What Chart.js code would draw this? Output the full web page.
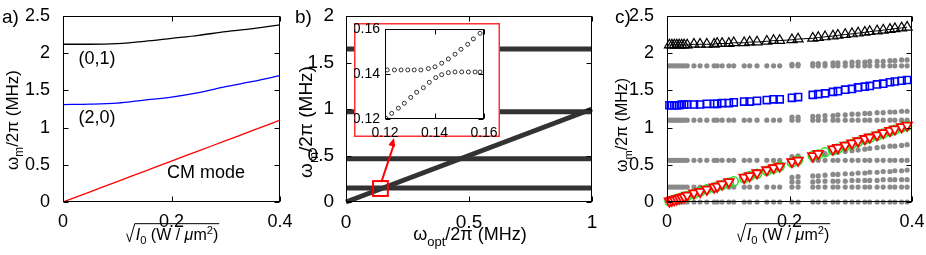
<!DOCTYPE html>
<html>
<head>
<meta charset="utf-8">
<script src="https://cdn.jsdelivr.net/npm/chart.js@4/dist/chart.umd.min.js"></script>
<style>
  body { margin: 0; background: #fff; width: 926px; height: 255px; position: relative; overflow: hidden; }
  canvas { position: absolute; top: 0; }
</style>
</head>
<body>
<canvas id="pa" width="300" height="255" style="left:0px"></canvas>
<canvas id="pb" width="320" height="255" style="left:290px"></canvas>
<canvas id="pc" width="316" height="255" style="left:610px"></canvas>
<canvas id="pi" width="146" height="114" style="left:354px;top:23px"></canvas>
<script>
const FONT = "'Liberation Sans', Arial, sans-serif";

// ---- panel a : model curves
const aX      = [0, 0.05, 0.1, 0.15, 0.2, 0.25, 0.3, 0.35, 0.4];
const aMode01 = [2.12, 2.12, 2.13, 2.16, 2.20, 2.24, 2.29, 2.33, 2.38];
const aMode20 = [1.31, 1.315, 1.33, 1.37, 1.41, 1.47, 1.55, 1.62, 1.70];
const aCM     = [0, 0.137, 0.275, 0.412, 0.55, 0.687, 0.825, 0.962, 1.10];

// ---- panel b : bands vs omega_opt
const bX      = [0, 1];
const bLevels = [0.15, 0.465, 0.97, 1.645];
const bDiag   = [0, 1.0];

// ---- panel b inset (avoided crossing)
const inUpX = [0.1209, 0.1238, 0.1265, 0.1292, 0.1318, 0.1345, 0.1375, 0.1402, 0.1429, 0.1456, 0.1483, 0.1507, 0.1534, 0.1557, 0.1584];
const inUpY = [0.1418, 0.1418, 0.1418, 0.1418, 0.1418, 0.1418, 0.1424, 0.1432, 0.1448, 0.1467, 0.1488, 0.1510, 0.1532, 0.1556, 0.1581];
const inLoX = [0.1204, 0.1227, 0.1254, 0.1278, 0.1304, 0.1328, 0.1355, 0.1379, 0.1405, 0.1429, 0.1456, 0.1483, 0.1510, 0.1537, 0.1564, 0.1584];
const inLoY = [0.1203, 0.1225, 0.1248, 0.1270, 0.1296, 0.1319, 0.1339, 0.1363, 0.1384, 0.1397, 0.1406, 0.1409, 0.1409, 0.1409, 0.1409, 0.1409];

// ---- panel c : simulated modes
const cX = [0.004, 0.008, 0.012, 0.016, 0.020, 0.024, 0.028, 0.033, 0.044, 0.054, 0.065, 0.077, 0.082, 0.090, 0.101, 0.109,
            0.126, 0.135, 0.147, 0.163, 0.174, 0.184, 0.204, 0.214, 0.238, 0.247, 0.258, 0.271, 0.279,
            0.291, 0.302, 0.312, 0.323, 0.331, 0.343, 0.353, 0.364, 0.372, 0.383, 0.392];
const cMode01 = [2.11, 2.11, 2.11, 2.11, 2.11, 2.11, 2.11, 2.11, 2.12, 2.12, 2.12, 2.12, 2.13, 2.13, 2.13, 2.14,
                 2.14, 2.15, 2.15, 2.16, 2.17, 2.17, 2.18, 2.19, 2.20, 2.21, 2.22, 2.23, 2.24,
                 2.25, 2.26, 2.27, 2.28, 2.29, 2.30, 2.31, 2.32, 2.33, 2.34, 2.35];
const cMode20 = [1.30, 1.30, 1.30, 1.30, 1.30, 1.31, 1.31, 1.31, 1.31, 1.31, 1.32, 1.32, 1.32, 1.33, 1.33, 1.34,
                 1.35, 1.35, 1.36, 1.37, 1.38, 1.38, 1.40, 1.41, 1.44, 1.45, 1.46, 1.48, 1.49,
                 1.51, 1.52, 1.54, 1.55, 1.56, 1.58, 1.59, 1.61, 1.62, 1.63, 1.64];
const cCMred  = [0.01, 0.02, 0.03, 0.04, 0.05, 0.06, 0.07, 0.09, 0.12, 0.14, 0.17, 0.20, 0.21, 0.24, 0.27, null,
                 0.33, 0.35, 0.39, 0.43, 0.46, 0.48, 0.54, 0.56, 0.62, 0.65, null, 0.71, 0.73,
                 0.76, 0.79, 0.82, 0.85, 0.87, 0.90, 0.93, 0.96, 0.98, 1.01, 1.03];
const cCMgreen = [0.01, 0.02, 0.03, 0.04, 0.05, 0.06, 0.07, 0.08, 0.11, 0.14, 0.17, 0.19, 0.21, 0.23, 0.26, 0.28,
                  0.32, 0.35, 0.38, 0.42, 0.45, 0.48, 0.53, 0.56, 0.62, 0.64, 0.67, 0.70, 0.72,
                  0.75, 0.78, 0.81, 0.84, 0.86, 0.89, 0.92, 0.95, 0.97, 1.00, 1.02];
// gray rows spanning the whole sweep
const cGray0  = [0,0,0,0,0,0,0,0,0,0,0,0,0,0,0,0,0,0,0,0,0,0,0,0,0,0,0,0,0,0,0,0,0,0,0,0,0,0,0,0];
const cGray1  = [0.2,0.2,0.2,0.2,0.2,0.2,0.2,0.2,0.2,0.2,0.2,0.2,0.2,0.2,0.2,0.2,0.2,0.2,0.2,0.2,
                 0.2,0.2,0.2,0.2,0.2,0.2,0.2,0.2,0.2,0.2,0.2,0.2,0.2,0.2,0.2,0.2,0.2,0.2,0.2,0.2];
const cGray2  = [0.56,0.56,0.56,0.56,0.56,0.56,0.56,0.56,0.56,0.56,0.56,0.56,0.56,0.56,0.56,0.56,0.56,0.56,0.56,0.56,
                 0.56,0.56,0.56,0.56,0.56,0.56,0.56,0.56,0.56,0.56,0.56,0.56,0.56,0.56,0.56,0.56,0.56,0.56,0.56,0.56];
const cGray3  = [1.1,1.1,1.1,1.1,1.1,1.1,1.1,1.1,1.1,1.1,1.1,1.1,1.1,1.1,1.1,1.1,1.1,1.1,1.1,1.1,
                 1.1,1.1,1.1,1.1,1.1,1.1,1.1,1.1,1.1,1.1,1.1,1.1,1.1,1.1,1.1,1.1,1.1,1.1,1.1,1.1];
const cGray4  = [1.83,1.83,1.83,1.83,1.83,1.83,1.83,1.83,1.83,1.83,1.83,1.83,1.83,1.83,1.83,1.83,1.83,1.83,1.83,1.83,
                 1.83,1.83,1.83,1.83,1.83,1.83,1.83,1.83,1.83,1.83,1.83,1.83,1.83,1.83,1.83,1.83,1.83,1.83,1.83,1.83];
// gray rows appearing at higher intensity (from cX[22] on)
const cLateX = cX.slice(22);
const cGrayL1 = [0.27,0.27,0.27,0.28,0.28,0.28,0.28,0.28,0.29,0.29,0.29,0.29,0.29,0.30,0.30,0.30,0.30,0.30];
const cGrayL2 = [0.33,0.34,0.35,0.35,0.36,0.37,0.37,0.38,0.38,0.39,0.39,0.40,0.40,0.41,0.41,0.42,0.42,0.43];
const cGrayL3 = [0.61,0.62,0.63,0.64,0.65,0.66,0.67,0.68,0.69,0.70,0.71,0.72,0.73,0.74,0.75,0.75,0.76,0.77];
const cGrayL4 = [1.14,1.14,1.15,1.15,1.16,1.16,1.17,1.17,1.18,1.18,1.19,1.19,1.20,1.20,1.21,1.21,1.22,1.22];
const cGrayL5 = [1.85,1.85,1.86,1.86,1.86,1.87,1.87,1.87,1.88,1.88,1.88,1.89,1.89,1.89,1.90,1.90,1.91,1.91];

const pts = (xs, ys) => xs.map((x, i) => ({ x: x, y: ys[i] }));

// ---------- text helpers
function fnt(s) { return (s.italic ? 'italic ' : '') + s.size + 'px ' + FONT; }
function rich(ctx, segs, x, y, rot) {
  ctx.save();
  ctx.translate(x, y);
  if (rot) ctx.rotate(rot);
  ctx.textAlign = 'left';
  ctx.textBaseline = 'alphabetic';
  ctx.fillStyle = '#000';
  let w = 0;
  segs.forEach(s => { ctx.font = fnt(s); s.w = ctx.measureText(s.t).width; w += s.w; });
  let cx = -w / 2;
  segs.forEach(s => { ctx.font = fnt(s); ctx.fillText(s.t, cx, s.dy || 0); cx += s.w; });
  ctx.restore();
}
function yTitle(ctx, x, y, f) {
  rich(ctx, [{ t: 'ω', size: f }, { t: 'm', size: f * 0.7, dy: f * 0.3 }, { t: '/2π (MHz)', size: f }], x, y, -Math.PI / 2);
}
function sqrtTitle(ctx, cx, base, f) {
  const segs = [{ t: 'I', size: f, italic: true }, { t: '0', size: f * 0.7, dy: f * 0.25 }, { t: ' (W / ', size: f },
                { t: 'μ', size: f, italic: true }, { t: 'm', size: f }, { t: '2', size: f * 0.7, dy: -f * 0.4 }, { t: ')', size: f }];
  ctx.save();
  let w = 0;
  segs.forEach(s => { ctx.font = fnt(s); s.w = ctx.measureText(s.t).width; w += s.w; });
  const r = f * 0.5;
  const s0 = cx - (w + r) / 2;
  ctx.strokeStyle = '#000';
  ctx.lineWidth = 1;
  ctx.beginPath();
  ctx.moveTo(s0, base - f * 0.4);
  ctx.lineTo(s0 + r * 0.35, base + f * 0.12);
  ctx.lineTo(s0 + r, base - f * 1.02);
  ctx.lineTo(s0 + r + w + 2, base - f * 1.02);
  ctx.stroke();
  ctx.fillStyle = '#000';
  ctx.textBaseline = 'alphabetic';
  let x = s0 + r + 1;
  segs.forEach(s => { ctx.font = fnt(s); ctx.fillText(s.t, x, base + (s.dy || 0)); x += s.w; });
  ctx.restore();
}
function label(ctx, t, x, y, f, align) {
  ctx.save();
  ctx.font = f + 'px ' + FONT;
  ctx.fillStyle = '#000';
  ctx.textAlign = align || 'left';
  ctx.textBaseline = 'alphabetic';
  ctx.fillText(t, x, y);
  ctx.restore();
}

// ---------- MATLAB style box with inward ticks
const frame = {
  id: 'frame',
  afterDatasetsDraw(chart, args, o) {
    const { ctx, chartArea: a, scales } = chart;
    const L = o.len || 5;
    ctx.save();
    ctx.strokeStyle = '#000';
    ctx.lineWidth = 1;
    const l = Math.round(a.left) + 0.5, r = Math.round(a.right) - 0.5;
    const t = Math.round(a.top) + 0.5, b = Math.round(a.bottom) - 0.5;
    ctx.strokeRect(l, t, r - l, b - t);
    ctx.beginPath();
    scales.x.ticks.forEach(k => {
      const p = Math.round(scales.x.getPixelForValue(k.value)) + 0.5;
      ctx.moveTo(p, b); ctx.lineTo(p, b - L);
      ctx.moveTo(p, t); ctx.lineTo(p, t + L);
    });
    scales.y.ticks.forEach(k => {
      const p = Math.round(scales.y.getPixelForValue(k.value)) + 0.5;
      ctx.moveTo(l, p); ctx.lineTo(l + L, p);
      ctx.moveTo(r, p); ctx.lineTo(r - L, p);
    });
    ctx.stroke();
    ctx.restore();
  },
  afterDraw(chart, args, o) {
    if (o.text) o.text(chart.ctx, chart);
  }
};

const fmt = (v) => String(+Number(v).toFixed(3));
function scales(xr, yr, leftW, bottomH, fs, pads) {
  const tk = { color: '#000', font: { family: FONT, size: fs }, maxRotation: 0, autoSkip: false, callback: fmt };
  return {
    x: { type: 'linear', min: xr[0], max: xr[1], grid: { display: false }, border: { display: false },
         ticks: Object.assign({ stepSize: xr[2], padding: pads[0] }, tk), afterFit(s) { s.height = bottomH; } },
    y: { type: 'linear', min: yr[0], max: yr[1], grid: { display: false }, border: { display: false },
         ticks: Object.assign({ stepSize: yr[2], padding: pads[1] }, tk), afterFit(s) { s.width = leftW; } }
  };
}
const base = (pad, sc, text) => ({
  responsive: false, animation: false, devicePixelRatio: 1,
  layout: { padding: pad },
  scales: sc,
  plugins: { legend: { display: false }, tooltip: { enabled: false }, frame: { text: text } }
});
const line = (data, color, w) => ({ data: data, showLine: true, borderColor: color, borderWidth: w, pointRadius: 0, cubicInterpolationMode: 'monotone', fill: false });

// ---------- panel a
new Chart(document.getElementById('pa'), {
  type: 'scatter',
  data: { datasets: [
    line(pts(aX, aMode01), '#000000', 1.3),
    line(pts(aX, aMode20), '#0000ff', 1.3),
    line(pts(aX, aCM), '#ff0000', 1.3)
  ] },
  options: base({ left: 0, right: 20, top: 16, bottom: 0 }, scales([0, 0.4, 0.2], [0, 2.5, 0.5], 63, 53, 18, [1, 5]), (ctx) => {
    label(ctx, 'a)', 2, 23, 19);
    label(ctx, '(0,1)', 97, 64, 18, 'center');
    label(ctx, '(2,0)', 97, 123, 18, 'center');
    label(ctx, 'CM mode', 206, 178, 18, 'center');
    yTitle(ctx, 18, 120, 17);
    sqrtTitle(ctx, 172, 240, 16);
  }),
  plugins: [frame]
});

// ---------- panel b
const band = (lvl) => ({ data: pts(bX, [lvl, lvl]), showLine: true, borderColor: '#333333', borderWidth: 5, pointRadius: 0, clip: 4 });
new Chart(document.getElementById('pb'), {
  type: 'scatter',
  data: { datasets: bLevels.map(band).concat([
    { data: pts(bX, bDiag), showLine: true, borderColor: '#333333', borderWidth: 5, pointRadius: 0, clip: 4 }
  ]) },
  options: base({ left: 0, right: 18, top: 16, bottom: 0 }, scales([0, 1, 0.5], [0, 2, 0.5], 56, 53, 19, [1, 4]), (ctx, chart) => {
    const xs = chart.scales.x, ys = chart.scales.y;
    label(ctx, 'b)', 5, 23, 19);
    yTitle(ctx, 22, 122, 19);
    rich(ctx, [{ t: 'ω', size: 18 }, { t: 'opt', size: 13, dy: 6 }, { t: '/2π (MHz)', size: 18 }], 180, 240, 0);
    // zoom box around the crossing and arrow to the inset
    const x0 = xs.getPixelForValue(0.11), x1 = xs.getPixelForValue(0.17);
    const y0 = ys.getPixelForValue(0.225), y1 = ys.getPixelForValue(0.065);
    ctx.save();
    ctx.strokeStyle = '#ff0000'; ctx.fillStyle = '#ff0000'; ctx.lineWidth = 2;
    ctx.strokeRect(x0, y0, x1 - x0, y1 - y0);
    const sx = xs.getPixelForValue(0.145), sy = y0;
    const ex = 394 - 290, ey = 138;
    ctx.beginPath(); ctx.moveTo(sx, sy); ctx.lineTo(ex, ey + 6); ctx.stroke();
    const ang = Math.atan2(ey - sy, ex - sx);
    ctx.beginPath();
    ctx.moveTo(ex, ey);
    ctx.lineTo(ex - 9 * Math.cos(ang - 0.4), ey - 9 * Math.sin(ang - 0.4));
    ctx.lineTo(ex - 9 * Math.cos(ang + 0.4), ey - 9 * Math.sin(ang + 0.4));
    ctx.closePath(); ctx.fill();
    ctx.restore();
  }),
  plugins: [frame]
});

// ---------- panel b inset
const insetBg = {
  id: 'insetBg',
  beforeDraw(chart) {
    const c = chart.ctx;
    c.save();
    c.fillStyle = '#fff';
    c.fillRect(0, 0, chart.width, chart.height);
    c.strokeStyle = '#ff3030'; c.lineWidth = 1.5;
    c.strokeRect(0.75, 0.75, chart.width - 1.5, chart.height - 1.5);
    c.restore();
  }
};
const circ = (data) => ({ data: data, pointStyle: 'circle', pointRadius: 2, borderWidth: 0.8, borderColor: '#000', backgroundColor: 'rgba(0,0,0,0)' });
new Chart(document.getElementById('pi'), {
  type: 'scatter',
  data: { datasets: [circ(pts(inUpX, inUpY)), circ(pts(inLoX, inLoY))] },
  options: base({ left: 0, right: 16, top: 6, bottom: 0 }, scales([0.12, 0.16, 0.02], [0.12, 0.16, 0.02], 31, 18, 14, [-2, -3]), null),
  plugins: [insetBg, frame]
});

// ---------- panel c
const gray = (data) => ({ data: data, pointStyle: 'circle', pointRadius: 2.6, borderWidth: 0, backgroundColor: '#8a8a8a', clip: 5 });
new Chart(document.getElementById('pc'), {
  type: 'scatter',
  data: { datasets: [
    { data: pts(cX, cCMred), pointStyle: 'triangle', rotation: 180, pointRadius: 5.5, borderWidth: 1.8, borderColor: '#ff0000', backgroundColor: '#ffffff', clip: 8 },
    { data: pts(cX, cCMgreen), pointStyle: 'circle', pointRadius: 4.5, borderWidth: 1.5, borderColor: '#22dd22', backgroundColor: 'rgba(0,0,0,0)', clip: 8 },
    { data: pts(cX, cMode01), showLine: true, borderWidth: 1, pointStyle: 'triangle', pointRadius: 5.8, pointBorderWidth: 1.2, borderColor: '#000', pointBackgroundColor: 'rgba(0,0,0,0)', clip: 8 },
    { data: pts(cX, cMode20), pointStyle: 'rect', pointRadius: 5, borderWidth: 1.6, borderColor: '#0000ff', backgroundColor: 'rgba(0,0,0,0)', clip: 8 },
    gray(pts(cX, cGray0)), gray(pts(cX, cGray1)), gray(pts(cX, cGray2)), gray(pts(cX, cGray3)), gray(pts(cX, cGray4)),
    gray(pts(cLateX, cGrayL1)), gray(pts(cLateX, cGrayL2)), gray(pts(cLateX, cGrayL3)), gray(pts(cLateX, cGrayL4)), gray(pts(cLateX, cGrayL5))
  ] },
  options: base({ left: 0, right: 14, top: 16, bottom: 0 }, scales([0, 0.4, 0.2], [0, 2.5, 0.5], 57, 53, 18, [1, 5]), (ctx) => {
    label(ctx, 'c)', 5, 23, 19);
    yTitle(ctx, 17, 125, 16);
    sqrtTitle(ctx, 173, 240, 16);
  }),
  plugins: [frame]
});
</script>
</body>
</html>
